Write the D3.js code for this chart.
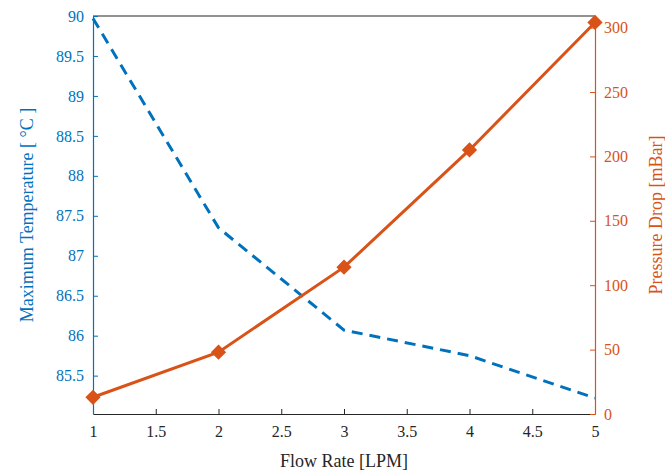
<!doctype html>
<html lang="en">
<head>
  <meta charset="utf-8">
  <title>Flow rate chart</title>
  <style>
    * { margin: 0; padding: 0; box-sizing: border-box; }
    body { background: #fff; }
    #container { width: 665px; height: 473px; }
    svg text { font-family: "Liberation Serif", "DejaVu Serif", serif !important; }
  </style>
</head>
<body>
  <div id="container"></div>
  <script src="https://cdn.jsdelivr.net/npm/d3@7"></script>
  <script>
    // values
    const flowRate = [1, 2, 3, 4, 5];
    const maxTemp = [89.97, 87.35, 86.07, 85.75, 85.22];
    const pressureDrop = [13, 48, 114, 205, 304];
    const xTicks = [1, 1.5, 2, 2.5, 3, 3.5, 4, 4.5, 5];
    const leftTicks = [85.5, 86, 86.5, 87, 87.5, 88, 88.5, 89, 89.5, 90];
    const rightTicks = [0, 50, 100, 150, 200, 250, 300];

    const blue = '#0072BD', orange = '#D95319', dark = '#262626';
    const box = {l: 93, r: 595, t: 16, b: 414};

    const svg = d3.select('#container').append('svg')
      .attr('width', 665)
      .attr('height', 473);

    const x = d3.scaleLinear().domain([1, 5]).range([box.l, box.r]);
    const yL = d3.scaleLinear().domain([85.02, 90]).range([box.b, box.t]);
    const yR = d3.scaleLinear().domain([0, 309]).range([box.b, box.t]);

    const tickFmt = d => String(d);

    function styleAxis(g, color) {
      g.attr('font-size', 16);
      g.select('.domain').attr('stroke', color).attr('stroke-width', 1.2);
      g.selectAll('line').attr('stroke', color);
      g.selectAll('text').attr('fill', color);
    }

    // bottom axis
    const gx = svg.append('g')
      .attr('transform', `translate(0,${box.b})`)
      .call(d3.axisBottom(x).tickValues(xTicks).tickFormat(tickFmt).tickSizeInner(-5).tickSizeOuter(0).tickPadding(12));
    styleAxis(gx, dark);

    // top border
    svg.append('line')
      .attr('x1', box.l).attr('x2', box.r).attr('y1', box.t).attr('y2', box.t)
      .attr('stroke', dark).attr('stroke-width', 1.2);

    // left axis
    const gl = svg.append('g')
      .attr('transform', `translate(${box.l},0)`)
      .call(d3.axisLeft(yL).tickValues(leftTicks).tickFormat(tickFmt).tickSizeInner(-5).tickSizeOuter(0).tickPadding(9));
    styleAxis(gl, blue);

    // right axis
    const gr = svg.append('g')
      .attr('transform', `translate(${box.r},0)`)
      .call(d3.axisRight(yR).tickValues(rightTicks).tickFormat(tickFmt).tickSizeInner(-5).tickSizeOuter(0).tickPadding(9));
    styleAxis(gr, orange);

    // temperature line (dashed)
    svg.append('path')
      .datum(flowRate.map((f, i) => [f, maxTemp[i]]))
      .attr('fill', 'none')
      .attr('stroke', blue)
      .attr('stroke-width', 3)
      .attr('stroke-dasharray', '11,7')
      .attr('d', d3.line().x(d => x(d[0])).y(d => yL(d[1])));

    // pressure line with diamonds
    const pData = flowRate.map((f, i) => [f, pressureDrop[i]]);
    svg.append('path')
      .datum(pData)
      .attr('fill', 'none')
      .attr('stroke', orange)
      .attr('stroke-width', 3)
      .attr('d', d3.line().x(d => x(d[0])).y(d => yR(d[1])));

    svg.selectAll('.diamond')
      .data(pData)
      .enter()
      .append('path')
      .attr('class', 'diamond')
      .attr('d', d3.symbol().type(d3.symbolDiamond2).size(110))
      .attr('transform', d => `translate(${x(d[0])},${yR(d[1])})`)
      .attr('fill', orange)
      .attr('stroke', orange)
      .attr('stroke-width', 1.5);

    // axis titles
    svg.append('text')
      .attr('transform', `translate(33,${(box.t + box.b) / 2}) rotate(-90)`)
      .attr('text-anchor', 'middle')
      .attr('fill', blue)
      .attr('font-size', 18)
      .text('Maximum Temperature [ °C ]');

    svg.append('text')
      .attr('transform', `translate(662,${(box.t + box.b) / 2}) rotate(-90)`)
      .attr('text-anchor', 'middle')
      .attr('fill', orange)
      .attr('font-size', 18)
      .text('Pressure Drop [mBar]');

    svg.append('text')
      .attr('x', (box.l + box.r) / 2)
      .attr('y', 467)
      .attr('text-anchor', 'middle')
      .attr('fill', dark)
      .attr('font-size', 18)
      .text('Flow Rate [LPM]');
  </script>
</body>
</html>
